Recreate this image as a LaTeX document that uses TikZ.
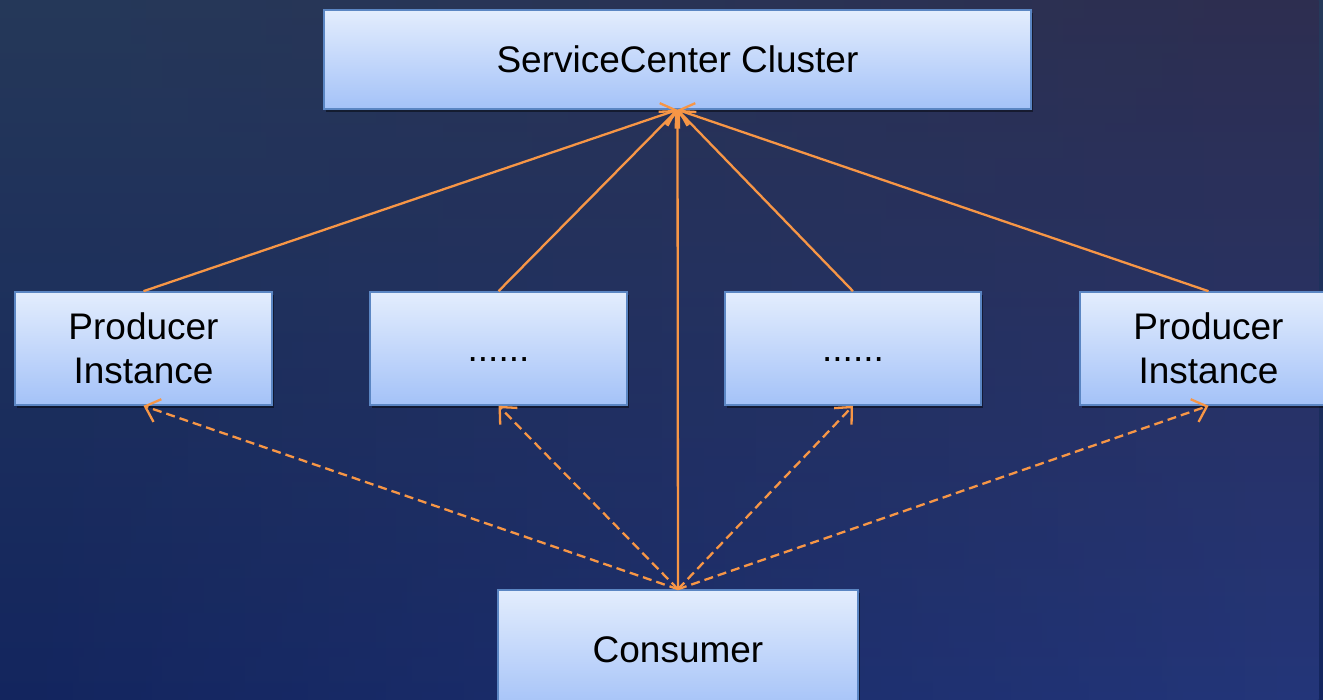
\documentclass[tikz,border=0pt]{standalone}
\usepackage{fontspec}
\setmainfont{Liberation Sans}
\usetikzlibrary{arrows.meta,shadows,fadings}

\definecolor{bgTL}{HTML}{25395A}
\definecolor{bgBL}{HTML}{13255E}
\definecolor{bgTR}{HTML}{2E2E50}
\definecolor{bgBR}{HTML}{24367A}
\definecolor{boxTop}{HTML}{E3EDFD}
\definecolor{boxBot}{HTML}{A4C2F8}
\definecolor{boxLine}{HTML}{5B86C3}
\definecolor{link}{HTML}{F79646}

\tikzset{
  box/.style={rectangle, draw=boxLine, line width=1.6pt,
    top color=boxTop, bottom color=boxBot,
    drop shadow={shadow xshift=2pt, shadow yshift=-3pt, opacity=0.45, fill=black},
    align=center, font=\fontsize{37}{44.5}\selectfont, text=black,
    inner sep=0pt},
  reg/.style={link, line width=2.3pt, -{Straight Barb[length=13pt,width=24pt,line width=2.3pt]}},
  call/.style={reg, dash pattern=on 9pt off 5pt},
}

\begin{document}
\begin{tikzpicture}[x=1pt,y=-1pt]
\useasboundingbox (0,0) rectangle (1323,700);
\clip (0,0) rectangle (1323,700);

% backdrop
\shade[top color=bgTL, bottom color=bgBL] (0,0) rectangle (1323,700);
\shade[top color=bgTR, bottom color=bgBR, path fading=west] (0,0) rectangle (1323,700);

% registry, providers and consumer
\node[box, minimum width=707pt, minimum height=99pt] (sc) at (677.5,59.5) {ServiceCenter Cluster};
\node[box, minimum width=257pt, minimum height=113pt] (p1) at (143.5,348.5) {Producer\\Instance};
\node[box, minimum width=257pt, minimum height=113pt] (d1) at (498.5,348.5) {......\vphantom{I}};
\node[box, minimum width=256pt, minimum height=113pt] (d2) at (853,348.5) {......\vphantom{I}};
\node[box, minimum width=257pt, minimum height=113pt] (p2) at (1208.5,348.5) {Producer\\Instance};
\node[box, minimum width=360pt, minimum height=120pt] (co) at (678,650) {Consumer};

% registration and discovery
\draw[reg] (p1.north) -- (sc.south);
\draw[reg] (d1.north) -- (sc.south);
\draw[reg] (d2.north) -- (sc.south);
\draw[reg] (p2.north) -- (sc.south);
\draw[reg] (co.north) -- (sc.south);

% consumer calls
\draw[call] (co.north) -- (p1.south);
\draw[call] (co.north) -- (d1.south);
\draw[call] (co.north) -- (d2.south);
\draw[call] (co.north) -- (p2.south);
\end{tikzpicture}
\end{document}
